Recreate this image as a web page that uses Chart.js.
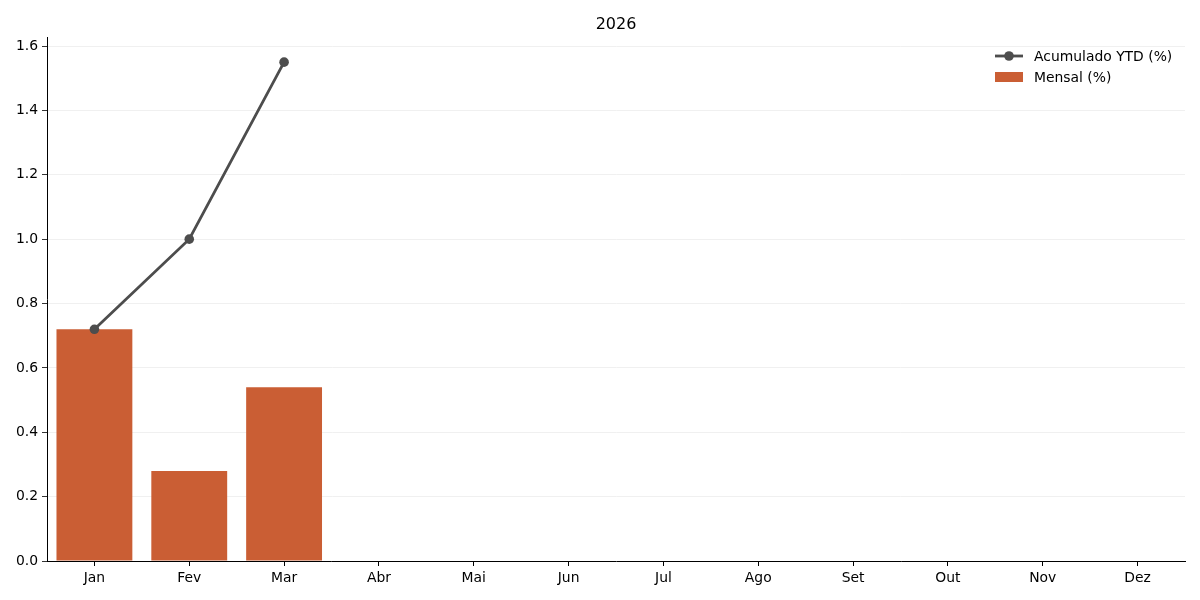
<!DOCTYPE html>
<html lang="pt">
<head>
    <meta charset="UTF-8">
    <title>2026</title>
    <style>
        body { margin: 0; padding: 0; background: #fff; }
        #wrap { width: 1200px; height: 600px; }
    </style>
    <script src="https://cdn.jsdelivr.net/npm/chart.js"></script>
</head>
<body>
    <div id="wrap"><canvas id="grafico"></canvas></div>

    <script>
        // dados
        var meses = ['Jan', 'Fev', 'Mar', 'Abr', 'Mai', 'Jun', 'Jul', 'Ago', 'Set', 'Out', 'Nov', 'Dez'];
        var mensal = [0.72, 0.28, 0.54];
        var acumulado = [0.72, 1.00, 1.55];
        var yTicks = [0, 0.2, 0.4, 0.6, 0.8, 1.0, 1.2, 1.4, 1.6];

        var corBarra = 'rgb(202, 94, 52)';
        var corLinha = '#4d4d4d';
        var fonte = '"DejaVu Sans", sans-serif';

        // legenda estilo matplotlib (linha com marcador + retângulo)
        var legendaPlugin = {
            id: 'legendaMpl',
            afterDraw: function(chart) {
                var ctx = chart.ctx;
                var x0 = 995, x1 = 1023, tx = 1034;
                ctx.save();
                ctx.font = '13.9px ' + fonte;
                ctx.textBaseline = 'middle';
                // Acumulado
                ctx.strokeStyle = corLinha;
                ctx.lineWidth = 2.8;
                ctx.beginPath();
                ctx.moveTo(x0, 56);
                ctx.lineTo(x1, 56);
                ctx.stroke();
                ctx.beginPath();
                ctx.fillStyle = corLinha;
                ctx.arc((x0 + x1) / 2, 56, 4.8, 0, Math.PI * 2);
                ctx.fill();
                ctx.fillStyle = '#000';
                ctx.fillText(chart.data.datasets[0].label, tx, 57);
                // Mensal
                ctx.fillStyle = corBarra;
                ctx.fillRect(x0, 72, x1 - x0, 10);
                ctx.fillStyle = '#000';
                ctx.fillText(chart.data.datasets[1].label, tx, 78);
                ctx.restore();
            }
        };

        document.addEventListener('DOMContentLoaded', function() {
            var ctx = document.getElementById('grafico').getContext('2d');
            new Chart(ctx, {
                type: 'bar',
                data: {
                    labels: meses,
                    datasets: [{
                        type: 'line',
                        label: 'Acumulado YTD (%)',
                        data: acumulado,
                        borderColor: corLinha,
                        backgroundColor: corLinha,
                        borderWidth: 2.8,
                        pointRadius: 4.8,
                        pointBackgroundColor: corLinha,
                        pointBorderWidth: 0,
                        tension: 0,
                        order: 0
                    }, {
                        label: 'Mensal (%)',
                        data: mensal,
                        backgroundColor: corBarra,
                        borderWidth: 0,
                        barPercentage: 0.8,
                        categoryPercentage: 1.0,
                        order: 1
                    }]
                },
                options: {
                    responsive: true,
                    maintainAspectRatio: false,
                    animation: false,
                    layout: { padding: { left: 0, right: 15, top: 0, bottom: 0 } },
                    plugins: {
                        legend: { display: false },
                        tooltip: { enabled: false },
                        title: {
                            display: true,
                            fullSize: false,
                            text: '2026',
                            color: '#000',
                            font: { family: fonte, size: 16, weight: 'normal' },
                            padding: { top: 15, bottom: 3 }
                        }
                    },
                    scales: {
                        x: {
                            offset: true,
                            grid: {
                                offset: false,
                                drawOnChartArea: false,
                                tickColor: '#000',
                                tickLength: 5
                            },
                            border: { color: '#000', width: 1 },
                            ticks: {
                                color: '#000',
                                padding: 4,
                                maxRotation: 0,
                                font: { family: fonte, size: 13.9 }
                            },
                            afterFit: function(scale) { scale.height = 39; }
                        },
                        y: {
                            min: 0,
                            max: Math.max.apply(null, acumulado) * 1.05,
                            afterBuildTicks: function(scale) {
                                scale.ticks = yTicks.map(function(v) { return { value: v }; });
                            },
                            grid: {
                                color: '#ececec',
                                lineWidth: 0.8,
                                tickColor: '#000',
                                tickLength: 5
                            },
                            border: { color: '#000', width: 1 },
                            ticks: {
                                color: '#000',
                                padding: 4,
                                font: { family: fonte, size: 13.9 },
                                callback: function(v) { return Number(v).toFixed(1); }
                            },
                            afterFit: function(scale) { scale.width = 47; }
                        }
                    }
                },
                plugins: [legendaPlugin]
            });
        });
    </script>
</body>
</html>
